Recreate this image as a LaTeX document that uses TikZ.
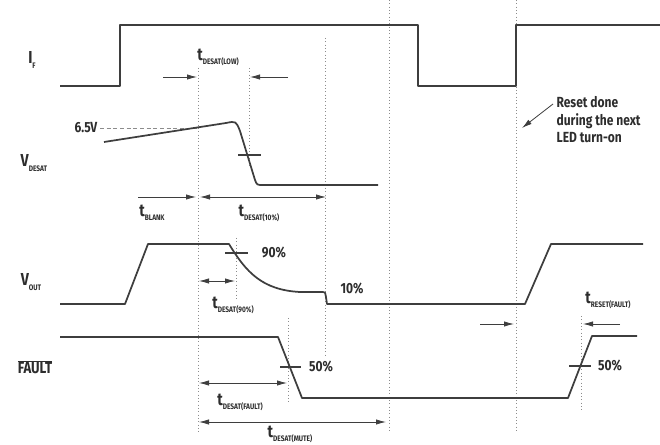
\documentclass[tikz,border=0pt]{standalone}
\usepackage{fontspec}
\setmainfont{Fira Sans}[FakeStretch=0.82]
\usepackage{tikz}
\usetikzlibrary{arrows.meta}
\definecolor{wavec}{RGB}{62,62,62}
\definecolor{txtc}{RGB}{45,45,45}
\definecolor{gridc}{RGB}{140,140,140}
\newcommand\tsub[1]{\raisebox{-0.45ex}{\fontsize{6}{6}\selectfont #1}}

\begin{document}
\begin{tikzpicture}[
    x=0.75pt, y=-0.75pt,
    >={Latex[length=7.5pt,width=4pt]},
    wave/.style={draw=wavec,line width=1.3pt,line join=round},
    guide/.style={draw=gridc,dotted,line width=0.5pt},
    dim/.style={->,draw=wavec,line width=0.6pt},
    ddim/.style={<->,draw=wavec,line width=0.6pt},
    tickm/.style={draw=wavec,line width=1pt},
    lbl/.style={font=\fontsize{11}{13}\selectfont\bfseries,text=txtc,inner sep=1pt},
    tlbl/.style={font=\fontsize{13}{13}\selectfont\bfseries,text=txtc,inner sep=1pt}
  ]
  \useasboundingbox (0,0) rectangle (660,445);
  % guide lines
  \draw[guide] (198,68)  -- (198,432);
  \draw[guide] (249,68)  -- (249,165);
  \draw[guide] (325,38)  -- (325,357);
  \draw[guide] (389,0)   -- (389,433);
  \draw[guide] (516,0)   -- (516,433);
  \draw[guide] (236,238) -- (236,300);
  \draw[guide] (288,318) -- (288,402);
  \draw[guide] (581,316) -- (581,410);
  \draw[draw=gridc,densely dashed,line width=0.5pt] (100,128) -- (198,128);
  % waveforms
  \draw[wave] (60,86) -- (120,86) -- (120,25) -- (418,25) -- (418,86)
              -- (516,86) -- (516,25) -- (660,25);
  \draw[wave] (104,142) -- (226,123) .. controls (236,121) .. (240,131)
              -- (255,180) .. controls (257,185) .. (263,185) -- (378,185);
  \draw[wave] (60,304) -- (125,304) -- (148,244) -- (229,244)
              .. controls (246,272) and (262,290) .. (300,292)
              -- (323,292) .. controls (325,292) .. (326,297) -- (327,304)
              -- (525,304) -- (551,244) -- (643,244);
  \draw[wave] (60,337) -- (278,337) -- (302,398) -- (568,398)
              -- (592,336) -- (637,336);
  % level marks
  \draw[tickm] (238,155) -- (261,155);
  \draw[tickm] (225,253) -- (248,253);
  \draw[tickm] (280,367) -- (301,367);
  \draw[tickm] (569,366) -- (591,366);
  % signal names
  \node[tlbl] (nif)    at (32,60)   {I\tsub{F}};
  \node[tlbl] (nvdes)  at (34,163)  {V\tsub{DESAT}};
  \node[tlbl] (nvout)  at (31,282)  {V\tsub{OUT}};
  \node[lbl,font=\fontsize{12}{13}\selectfont\bfseries] (nflt) at (35,367) {$\overline{\hbox{FAULT}}$};
  % values
  \node[lbl] (v65)  at (86,128)  {6.5V};
  \node[lbl] (p90)  at (274,253) {90\%};
  \node[lbl] (p10)  at (352,289) {10\%};
  \node[lbl] (p50a) at (321,367) {50\%};
  \node[lbl] (p50b) at (610,366) {50\%};
  % timing labels
  \node[tlbl] (tlow)   at (218,57)  {t\tsub{DESAT(LOW)}};
  \node[tlbl] (tblank) at (152,213) {t\tsub{BLANK}};
  \node[tlbl] (tten)   at (259,213) {t\tsub{DESAT(10\%)}};
  \node[tlbl] (tnin)   at (233,305) {t\tsub{DESAT(90\%)}};
  \node[tlbl] (tflt)   at (240,402) {t\tsub{DESAT(FAULT)}};
  \node[tlbl] (tmute)  at (290,434) {t\tsub{DESAT(MUTE)}};
  \node[tlbl] (trst)   at (608,300) {t\tsub{RESET(FAULT)}};
  \node[lbl,align=left,anchor=north west] (note) at (555,95)
       {Reset done\\during the next\\LED turn-on};
  % dimension arrows
  \coordinate (lowA) at (163,77);  \coordinate (lowB) at (197,77);
  \coordinate (lowC) at (288,77);  \coordinate (lowD) at (250,77);
  \coordinate (blA)  at (138,197); \coordinate (blB)  at (196,197);
  \coordinate (tenA) at (200,197); \coordinate (tenB) at (326,197);
  \coordinate (ninA) at (199,281); \coordinate (ninB) at (235,281);
  \coordinate (fltA) at (199,383); \coordinate (fltB) at (287,383);
  \coordinate (mutA) at (199,422); \coordinate (mutB) at (386,422);
  \coordinate (rstA) at (480,324); \coordinate (rstB) at (514,324);
  \coordinate (rstC) at (620,324); \coordinate (rstD) at (583,324);
  \coordinate (edge) at (522,128);
  \draw[dim]  (lowA) -- (lowB);
  \draw[dim]  (lowC) -- (lowD);
  \draw[dim]  (blA)  -- (blB);
  \draw[ddim] (tenA) -- (tenB);
  \draw[ddim] (ninA) -- (ninB);
  \draw[ddim] (fltA) -- (fltB);
  \draw[ddim] (mutA) -- (mutB);
  \draw[dim]  (rstA) -- (rstB);
  \draw[dim]  (rstC) -- (rstD);
  \draw[dim]  (note.north west) ++(-2,9) coordinate (noteS) (noteS) -- (edge);
\end{tikzpicture}
\end{document}
